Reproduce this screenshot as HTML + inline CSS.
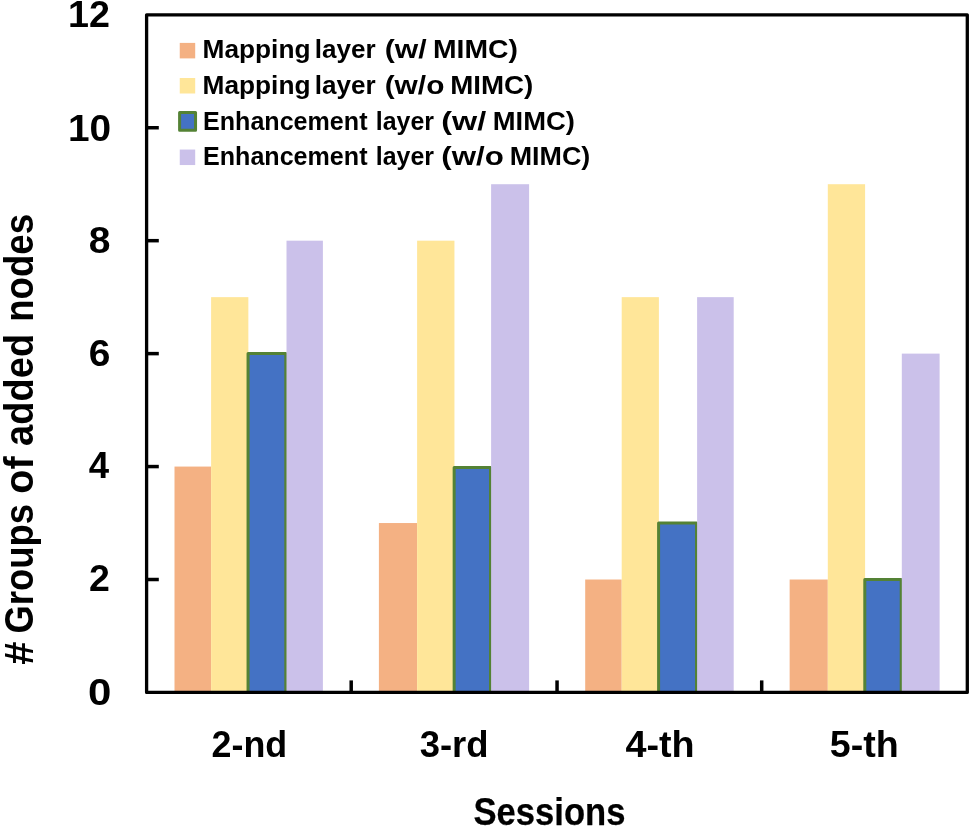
<!DOCTYPE html>
<html lang="en"><head><meta charset="utf-8"><title>Groups of added nodes per session</title>
<style>html,body{margin:0;padding:0;background:#fff;overflow:hidden;}svg{display:block;filter:blur(0.45px);}text{font-family:'Liberation Sans', Arial, sans-serif;font-weight:700;fill:#000;stroke-linejoin:round;}</style>
</head><body>
<svg width="970" height="827" viewBox="0 0 970 827">
<rect x="0" y="0" width="970" height="827" fill="#ffffff"/>
<g id="bars">
<rect x="174.50" y="466.57" width="36.60" height="225.88" fill="#F4B183"/>
<rect x="211.10" y="297.15" width="37.25" height="395.30" fill="#FFE699"/>
<rect x="248.05" y="353.62" width="37.75" height="338.83" fill="#4472C4" stroke="#548235" stroke-width="3" stroke-linejoin="round"/>
<rect x="286.50" y="240.68" width="36.40" height="451.77" fill="#CBC1EA"/>
<rect x="378.90" y="523.04" width="38.20" height="169.41" fill="#F4B183"/>
<rect x="417.10" y="240.68" width="37.35" height="451.77" fill="#FFE699"/>
<rect x="454.15" y="467.41" width="36.35" height="225.04" fill="#4472C4" stroke="#548235" stroke-width="3" stroke-linejoin="round"/>
<rect x="491.10" y="184.21" width="38.00" height="508.24" fill="#CBC1EA"/>
<rect x="585.20" y="579.51" width="36.50" height="112.94" fill="#F4B183"/>
<rect x="621.70" y="297.15" width="37.20" height="395.30" fill="#FFE699"/>
<rect x="658.60" y="523.04" width="37.90" height="169.41" fill="#4472C4" stroke="#548235" stroke-width="3" stroke-linejoin="round"/>
<rect x="697.10" y="297.15" width="36.60" height="395.30" fill="#CBC1EA"/>
<rect x="789.65" y="579.51" width="38.15" height="112.94" fill="#F4B183"/>
<rect x="827.80" y="184.21" width="37.30" height="508.24" fill="#FFE699"/>
<rect x="864.80" y="579.51" width="36.40" height="112.94" fill="#4472C4" stroke="#548235" stroke-width="3" stroke-linejoin="round"/>
<rect x="901.80" y="353.62" width="37.80" height="338.83" fill="#CBC1EA"/>
</g>
<g id="ticks" stroke="#000" stroke-width="3.5" stroke-linecap="butt">
<line x1="146.60" y1="579.51" x2="158.80" y2="579.51"/>
<line x1="146.60" y1="466.57" x2="158.80" y2="466.57"/>
<line x1="146.60" y1="353.62" x2="158.80" y2="353.62"/>
<line x1="146.60" y1="240.68" x2="158.80" y2="240.68"/>
<line x1="146.60" y1="127.74" x2="158.80" y2="127.74"/>
<line x1="351.20" y1="692.45" x2="351.20" y2="680.40"/>
<line x1="557.05" y1="692.45" x2="557.05" y2="680.40"/>
<line x1="761.70" y1="692.45" x2="761.70" y2="680.40"/>
</g>
<rect x="146.60" y="14.80" width="820.70" height="677.65" fill="none" stroke="#000" stroke-width="3.3" stroke-linejoin="round"/>
<g id="ylabels">
<text x="68.11" y="26.90" font-size="37.8" textLength="41.94" lengthAdjust="spacingAndGlyphs">12</text>
<text x="67.93" y="140.70" font-size="37.8" textLength="43.15" lengthAdjust="spacingAndGlyphs">10</text>
<text x="88.81" y="252.50" font-size="37.8" textLength="21.71" lengthAdjust="spacingAndGlyphs">8</text>
<text x="88.85" y="366.10" font-size="37.8" textLength="21.67" lengthAdjust="spacingAndGlyphs">6</text>
<text x="88.82" y="477.85" font-size="37.8" textLength="20.36" lengthAdjust="spacingAndGlyphs">4</text>
<text x="88.96" y="591.30" font-size="37.8" textLength="20.86" lengthAdjust="spacingAndGlyphs">2</text>
<text x="88.03" y="705.00" font-size="37.8" textLength="23.37" lengthAdjust="spacingAndGlyphs">0</text>
</g>
<g id="xlabels">
<text x="211.51" y="757.20" font-size="37.8" textLength="75.70" lengthAdjust="spacingAndGlyphs">2-nd</text>
<text x="419.64" y="757.20" font-size="37.8" textLength="68.89" lengthAdjust="spacingAndGlyphs">3-rd</text>
<text x="625.50" y="757.20" font-size="37.8" textLength="69.19" lengthAdjust="spacingAndGlyphs">4-th</text>
<text x="829.76" y="757.20" font-size="37.8" textLength="68.93" lengthAdjust="spacingAndGlyphs">5-th</text>
</g>
<text x="473.41" y="825.38" font-size="38.7" stroke="#000" stroke-width="0.25" textLength="152.04" lengthAdjust="spacingAndGlyphs" id="xtitle">Sessions</text>
<g id="ytitle" transform="translate(33,664.5) rotate(-90)">
<text x="-0.27" y="0.00" font-size="40.4" textLength="23.22" lengthAdjust="spacingAndGlyphs">#</text>
<text x="30.92" y="0.00" font-size="40.4" textLength="129.75" lengthAdjust="spacingAndGlyphs">Groups</text>
<text x="170.83" y="0.00" font-size="40.4" textLength="37.24" lengthAdjust="spacingAndGlyphs">of</text>
<text x="218.62" y="0.00" font-size="40.4" textLength="112.13" lengthAdjust="spacingAndGlyphs">added</text>
<text x="342.70" y="0.00" font-size="40.4" textLength="107.94" lengthAdjust="spacingAndGlyphs">nodes</text>
</g>
<g id="legend">
<rect x="179.75" y="42.90" width="15.45" height="15.5" fill="#F4B183"/>
<text x="202.56" y="58.20" font-size="26.4" textLength="107.97" lengthAdjust="spacingAndGlyphs">Mapping</text>
<text x="314.87" y="58.20" font-size="26.4" textLength="60.92" lengthAdjust="spacingAndGlyphs">layer</text>
<text x="384.67" y="58.20" font-size="26.4" textLength="41.89" lengthAdjust="spacingAndGlyphs">(w/</text>
<text x="433.02" y="58.20" font-size="26.4" textLength="84.88" lengthAdjust="spacingAndGlyphs">MIMC)</text>
<rect x="179.75" y="78.00" width="15.45" height="15.5" fill="#FFE699"/>
<text x="202.56" y="94.30" font-size="26.4" textLength="107.97" lengthAdjust="spacingAndGlyphs">Mapping</text>
<text x="314.87" y="94.30" font-size="26.4" textLength="60.92" lengthAdjust="spacingAndGlyphs">layer</text>
<text x="384.69" y="94.30" font-size="26.4" textLength="59.68" lengthAdjust="spacingAndGlyphs">(w/o</text>
<text x="450.26" y="94.30" font-size="26.4" textLength="83.11" lengthAdjust="spacingAndGlyphs">MIMC)</text>
<rect x="179.6" y="112.4" width="15.95" height="17.9" fill="#4472C4" stroke="#548235" stroke-width="3" stroke-linejoin="round"/>
<text x="203.04" y="129.60" font-size="26.4" textLength="164.45" lengthAdjust="spacingAndGlyphs">Enhancement</text>
<text x="375.85" y="129.60" font-size="26.4" textLength="58.12" lengthAdjust="spacingAndGlyphs">layer</text>
<text x="441.27" y="129.60" font-size="26.4" textLength="44.93" lengthAdjust="spacingAndGlyphs">(w/</text>
<text x="492.79" y="129.60" font-size="26.4" textLength="82.07" lengthAdjust="spacingAndGlyphs">MIMC)</text>
<rect x="179.75" y="149.55" width="15.45" height="15.5" fill="#CBC1EA"/>
<text x="203.04" y="164.50" font-size="26.4" textLength="164.45" lengthAdjust="spacingAndGlyphs">Enhancement</text>
<text x="375.85" y="164.50" font-size="26.4" textLength="58.12" lengthAdjust="spacingAndGlyphs">layer</text>
<text x="441.32" y="164.50" font-size="26.4" textLength="62.50" lengthAdjust="spacingAndGlyphs">(w/o</text>
<text x="509.72" y="164.50" font-size="26.4" textLength="80.51" lengthAdjust="spacingAndGlyphs">MIMC)</text>
</g>
</svg>
</body></html>
